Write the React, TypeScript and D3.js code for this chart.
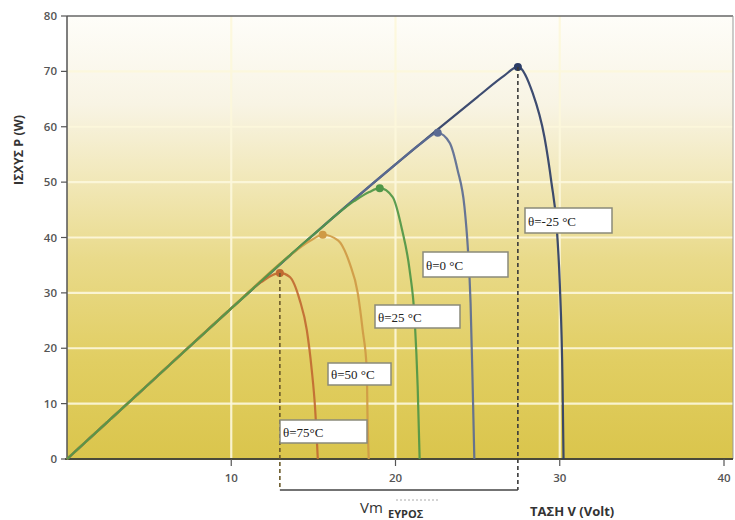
import React from "react";
import * as d3 from "d3";

// Power–voltage curves of a PV module at five cell temperatures (V in volts, P in watts)
const temperatures = ["θ=-25 °C", "θ=0 °C", "θ=25 °C", "θ=50 °C", "θ=75°C"];

const curveMinus25: [number, number][] = [
  [0, 0], [5, 13.6], [10, 27.2], [15, 40.5], [20, 53.2], [25, 65.4], [26.6, 69.2], [27.45, 70.8],
  [28.35, 66.1], [29.07, 58.1], [29.5, 49.8], [29.8, 42.4], [30.0, 31.8], [30.17, 13.7], [30.23, 0],
];
const curve0: [number, number][] = [
  [0, 0], [5, 13.6], [10, 27.2], [15, 40.5], [20, 53.2], [21.6, 57.1], [22.57, 58.9],
  [23.3, 57.1], [23.78, 52.2], [24.2, 45.5], [24.4, 38.3], [24.57, 28.2], [24.7, 13], [24.8, 0],
];
const curve25: [number, number][] = [
  [0, 0], [5, 13.6], [10, 27.2], [15, 40.5], [17.5, 46.6], [18.4, 48.2], [19.04, 48.9],
  [19.83, 47.3], [20.4, 41.4], [20.86, 34.1], [21.17, 25.1], [21.35, 13], [21.47, 0],
];
const curve50: [number, number][] = [
  [0, 0], [5, 13.6], [10, 27.2], [13.5, 36.6], [14.8, 39.4], [15.57, 40.5],
  [16.5, 39.5], [17.2, 35.4], [17.7, 30.0], [18.0, 23.3], [18.25, 16.1], [18.3, 7], [18.37, 0],
];
const curve75: [number, number][] = [
  [0, 0], [5, 13.6], [10, 27.2], [11.8, 31.9], [12.96, 33.6],
  [13.56, 32.9], [14.17, 28.7], [14.6, 23.3], [14.9, 16.1], [15.1, 9.4], [15.27, 0],
];

// Maximum power points (V, P)
const mppVoltages = [27.45, 22.57, 19.04, 15.57, 12.96];
const mppPowers = [70.8, 58.9, 48.9, 40.5, 33.6];

const xTicks = [10, 20, 30, 40];
const yTicks = [0, 10, 20, 30, 40, 50, 60, 70, 80];
const gridV = [10, 20, 30];

const curves = [curveMinus25, curve0, curve25, curve50, curve75];
const colors = ["#2c3d66", "#5b6b93", "#4f9647", "#cf9a45", "#c16a32"];
const drawOrder = [0, 1, 4, 3, 2];

// Label box placement (pixels)
const boxes = [
  { x: 525, y: 208, w: 87, h: 25 },
  { x: 423, y: 252, w: 85, h: 25 },
  { x: 375, y: 305, w: 85, h: 23 },
  { x: 328, y: 363, w: 63, h: 22 },
  { x: 280, y: 420, w: 87, h: 23 },
];

export default function App() {
  const x = d3.scaleLinear().domain([0, 40]).range([67, 724]);
  const y = d3.scaleLinear().domain([0, 80]).range([459, 16]);
  const line = d3
    .line<[number, number]>()
    .x((d) => x(d[0]))
    .y((d) => y(d[1]))
    .curve(d3.curveMonotoneX);

  const left = 67;
  const right = 733;
  const top = y(80);
  const bottom = y(0);
  const bracketY = 490;
  const vLow = mppVoltages[4];
  const vHigh = mppVoltages[0];

  return (
    <svg
      width={735}
      height={520}
      style={{ position: "absolute", left: 0, top: 0, background: "#fff" }}
    >
      <defs>
        <linearGradient id="bg" x1="0" y1="0" x2="0" y2="1">
          <stop offset="0%" stopColor="#fefdf9" />
          <stop offset="20%" stopColor="#f8f4e4" />
          <stop offset="38%" stopColor="#f1e7b6" />
          <stop offset="55%" stopColor="#e9da8a" />
          <stop offset="78%" stopColor="#e1ce62" />
          <stop offset="100%" stopColor="#dac54c" />
        </linearGradient>
      </defs>

      {/* plot background */}
      <rect x={left} y={top} width={right - left} height={bottom - top} fill="url(#bg)" />

      {/* grid */}
      {yTicks.slice(1, -1).map((t) => (
        <line key={"gy" + t} x1={left} x2={right} y1={y(t)} y2={y(t)} stroke="#fdf8dc" strokeWidth={2.2} opacity={0.9} />
      ))}
      {gridV.map((t) => (
        <line key={"gx" + t} x1={x(t)} x2={x(t)} y1={top} y2={bottom} stroke="#fdf8dc" strokeWidth={2.2} opacity={0.9} />
      ))}

      {/* frame */}
      <line x1={left} x2={right} y1={top} y2={top} stroke="#666" strokeWidth={1.5} />
      <line x1={right} x2={right} y1={top} y2={bottom} stroke="#999" strokeWidth={1} />
      <line x1={left} x2={left} y1={top} y2={bottom} stroke="#555" strokeWidth={1.5} />
      <line x1={left - 2} x2={right} y1={bottom} y2={bottom} stroke="#4a4a3a" strokeWidth={2} />

      {/* y axis */}
      {yTicks.map((t) => (
        <g key={"yt" + t}>
          <line x1={left - 6} x2={left} y1={y(t)} y2={y(t)} stroke="#555" strokeWidth={1.2} />
          <text
            x={left - 10}
            y={y(t) + 4}
            textAnchor="end"
            fontFamily="Open Sans, sans-serif"
            fontSize={11.5}
            fontWeight={600}
            fill="#555"
          >
            {t}
          </text>
        </g>
      ))}
      <text
        transform={`translate(23,150) rotate(-90)`}
        textAnchor="middle"
        fontFamily="Open Sans, sans-serif"
        fontSize={12.5}
        fontWeight={700}
        fill="#333"
      >
        ΙΣΧΥΣ P (W)
      </text>

      {/* x axis */}
      {xTicks.map((t) => (
        <g key={"xt" + t}>
          <line x1={x(t)} x2={x(t)} y1={bottom} y2={bottom + 7} stroke="#555" strokeWidth={1.2} />
          <text
            x={x(t)}
            y={bottom + 23}
            textAnchor="middle"
            fontFamily="Open Sans, sans-serif"
            fontSize={11.5}
            fontWeight={600}
            fill="#555"
          >
            {t}
          </text>
        </g>
      ))}

      {/* curves */}
      {drawOrder.map((i) => (
        <path key={"c" + i} d={line(curves[i]) || ""} fill="none" stroke={colors[i]} strokeWidth={2.2} opacity={0.92} />
      ))}

      {/* MPP markers */}
      {mppVoltages.map((v, i) => (
        <circle key={"m" + i} cx={x(v)} cy={y(mppPowers[i])} r={4} fill={colors[i]} />
      ))}

      {/* Vm range */}
      <line x1={x(vLow)} x2={x(vLow)} y1={y(mppPowers[4])} y2={bracketY} stroke="#6b5a2a" strokeWidth={1.6} strokeDasharray="4,3" />
      <line x1={x(vHigh)} x2={x(vHigh)} y1={y(mppPowers[0])} y2={bracketY} stroke="#3a3a3a" strokeWidth={1.6} strokeDasharray="4,3" />
      <line x1={x(vLow)} x2={x(vHigh)} y1={bracketY} y2={bracketY} stroke="#444" strokeWidth={1.5} />

      {/* temperature labels */}
      {boxes.map((b, i) => (
        <g key={"b" + i}>
          <rect x={b.x} y={b.y} width={b.w} height={b.h} fill="#fff" stroke="#8a8a7a" strokeWidth={1.5} />
          <text
            x={b.x + 3}
            y={b.y + b.h / 2 + 5}
            fontFamily="Liberation Serif, serif"
            fontSize={13}
            fill="#222"
          >
            {temperatures[i]}
          </text>
        </g>
      ))}

      {/* axis titles */}
      <text x={360} y={513} fontFamily="Open Sans, sans-serif" fontSize={15} fill="#333">
        Vm
      </text>
      <line x1={396} x2={440} y1={500} y2={500} stroke="#aaa" strokeWidth={1} strokeDasharray="2,2" />
      <text x={388} y={518} fontFamily="Open Sans, sans-serif" fontSize={11} fontWeight={700} fill="#333">
        ΕΥΡΟΣ
      </text>
      <text x={530} y={516} fontFamily="Open Sans, sans-serif" fontSize={13} fontWeight={700} fill="#333">
        ΤΑΣΗ V (Volt)
      </text>
    </svg>
  );
}
